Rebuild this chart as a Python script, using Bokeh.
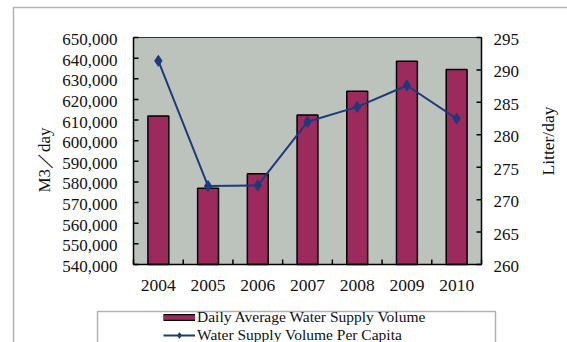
import math
from bokeh.plotting import figure
from bokeh.models import Range1d, Legend, LegendItem, BoxAnnotation
from bokeh.core.properties import value
from bokeh.embed import file_html
from bokeh.resources import INLINE

# Water supply statistics, 2004-2010
years = ["2004", "2005", "2006", "2007", "2008", "2009", "2010"]
daily_volume = [612000, 577000, 584000, 612500, 624000, 638500, 634500]   # m3/day
per_capita = [291.4, 272.1, 272.2, 282.0, 284.3, 287.6, 282.5]           # litre/day

volume_ticks = [540000, 550000, 560000, 570000, 580000, 590000,
                600000, 610000, 620000, 630000, 640000, 650000]
volume_labels = [f"{v:,}" for v in volume_ticks]
capita_ticks = [260, 265, 270, 275, 280, 285, 290, 295]
capita_labels = [str(v) for v in capita_ticks]

FONT = "Liberation Serif"
BAR_COLOR = "#9c2a5c"
LINE_COLOR = "#1f3a7a"
PANEL_COLOR = "#bcc3bd"
INK = "#111111"

# page geometry (pixels): canvas size and the plot-area box inside it
W, H = 567, 342
L, R, T, B = 133, 481, 37, 264
TICK = 5

n = len(years)
vmin, vmax = volume_ticks[0], volume_ticks[-1]
pmin, pmax = capita_ticks[0], capita_ticks[-1]
ppx = (R - L) / n                 # pixels per category
vpp = (vmax - vmin) / (B - T)     # volume units per pixel
ppp = (pmax - pmin) / (B - T)     # per-capita units per pixel

# the frame spans the whole canvas; ranges are chosen so the data box sits at L..R, T..B
p = figure(width=W, height=H, output_backend="svg", toolbar_location=None,
           x_range=Range1d(-L / ppx, n + (W - R) / ppx),
           y_range=Range1d(vmin - (H - B) * vpp, vmax + T * vpp),
           x_axis_type=None, y_axis_type=None, min_border=0)
p.extra_y_ranges = {"pc": Range1d(pmin - (H - B) * ppp, pmax + T * ppp)}
p.grid.visible = False
p.outline_line_color = None
p.background_fill_color = "white"
p.border_fill_color = "white"

centers = [i + 0.5 for i in range(n)]
bounds = list(range(n + 1))

# plot area
p.quad(left=0, right=n, bottom=vmin, top=vmax, fill_color=PANEL_COLOR,
       line_color="#333333", line_width=1)

bars = p.vbar(x=centers, top=daily_volume, bottom=vmin, width=0.42,
              fill_color=BAR_COLOR, line_color="black", line_width=1.5)

# axis lines
p.segment(x0=[0, n, 0], y0=[vmin, vmin, vmin], x1=[0, n, n], y1=[vmax, vmax, vmin],
          line_color="black", line_width=1.5)

# inward ticks
p.segment(x0=[0] * len(volume_ticks), y0=volume_ticks,
          x1=[TICK / ppx] * len(volume_ticks), y1=volume_ticks,
          line_color="black", line_width=1.5)
p.segment(x0=[n] * len(capita_ticks), y0=capita_ticks,
          x1=[n - TICK / ppx] * len(capita_ticks), y1=capita_ticks,
          line_color="black", line_width=1.5, y_range_name="pc")
p.segment(x0=bounds, y0=[vmin] * len(bounds), x1=bounds, y1=[vmin + TICK * vpp] * len(bounds),
          line_color="black", line_width=1.5)

# tick labels
p.text(x=[0] * len(volume_ticks), y=volume_ticks, text=volume_labels,
       x_offset=-16, y_offset=2, text_align="right", text_baseline="middle",
       text_font=value(FONT), text_font_size="17px", text_color=INK)
p.text(x=[n] * len(capita_ticks), y=capita_ticks, text=capita_labels,
       x_offset=12, y_offset=2, text_align="left", text_baseline="middle",
       text_font=value(FONT), text_font_size="17px", text_color=INK, y_range_name="pc")
p.text(x=centers, y=[vmin] * n, text=years, y_offset=21,
       text_align="center", text_baseline="middle",
       text_font=value(FONT), text_font_size="17.5px", text_color=INK)

# axis titles
p.text(x=[0], y=[(vmin + vmax) / 2], text=["M3／day"], x_offset=-89, y_offset=9,
       angle=math.pi / 2, text_align="center", text_baseline="middle",
       text_font=value(FONT), text_font_size="17px", text_color=INK)
p.text(x=[n], y=[(pmin + pmax) / 2], text=["Litter/day"], x_offset=66, y_offset=-10,
       angle=math.pi / 2, text_align="center", text_baseline="middle",
       text_font=value(FONT), text_font_size="17.5px", text_color=INK, y_range_name="pc")

# per-capita series on the right-hand scale
line = p.line(x=centers, y=per_capita, y_range_name="pc",
              line_color=LINE_COLOR, line_width=2)
marks = p.scatter(x=centers, y=per_capita, y_range_name="pc", marker="diamond",
                  size=11, fill_color=LINE_COLOR, line_color=LINE_COLOR)

# flat bar swatch for the legend: dark edge under the bar colour (no points drawn)
nan = float("nan")
swatch_edge = p.line(x=[nan], y=[nan], line_color="black", line_width=7, line_cap="butt")
swatch_fill = p.line(x=[nan], y=[nan], line_color=BAR_COLOR, line_width=4.5, line_cap="butt")

legend = Legend(items=[LegendItem(label="Daily Average Water Supply Volume",
                                  renderers=[swatch_edge, swatch_fill]),
                       LegendItem(label="Water Supply Volume Per Capita",
                                  renderers=[line, marks])],
                location=(163, -2), orientation="vertical",
                glyph_width=32, glyph_height=14, label_height=14, spacing=-3,
                padding=0, margin=0, label_standoff=2,
                label_text_font=FONT, label_text_font_size="15.5px",
                label_text_color=INK, border_line_alpha=0, background_fill_alpha=0)
p.add_layout(legend, "center")

legend_box = BoxAnnotation(left=97, right=495, top=311, bottom=360,
                           left_units="canvas", right_units="canvas",
                           top_units="canvas", bottom_units="canvas",
                           fill_alpha=0, line_color="black", line_width=1.5)
outer_box = BoxAnnotation(left=13, right=620, top=7, bottom=420,
                          left_units="canvas", right_units="canvas",
                          top_units="canvas", bottom_units="canvas",
                          fill_alpha=0, line_color="black", line_width=1.5)
p.add_layout(legend_box)
p.add_layout(outer_box)

open("out.html", "w").write(file_html(p, INLINE))
